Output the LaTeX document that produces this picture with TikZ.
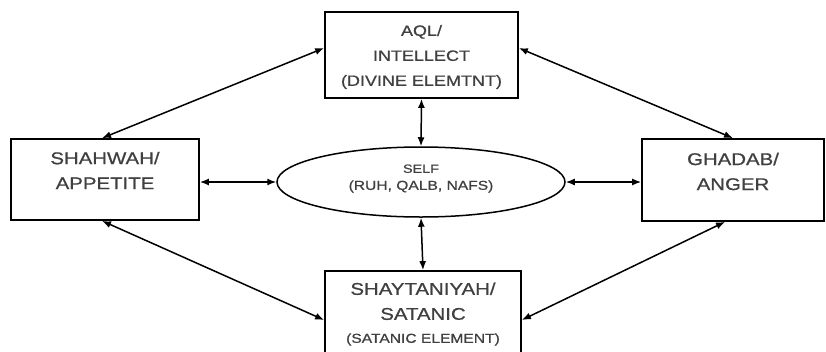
\documentclass[tikz,border=0pt]{standalone}
\usepackage{fontspec}
\setmainfont{Liberation Sans}[FakeStretch=1.2,FakeBold=0.8]
\usetikzlibrary{shapes.geometric,arrows.meta,calc}
\begin{document}
\begin{tikzpicture}[x=1pt,y=-1pt,
  box/.style={draw,line width=1.7pt,inner sep=0pt},
  lbl/.style={align=center,inner sep=0pt,text=black!75},
  link/.style={{Latex[length=9pt,width=7pt]}-{Latex[length=9pt,width=7pt]},line width=1.5pt},
]
\useasboundingbox (0,0) rectangle (826,351);
% boxes
\node[box,minimum width=193pt,minimum height=86pt] (top) at (421.5,55) {};
\node[box,minimum width=188pt,minimum height=81pt] (left) at (105,179.5) {};
\node[box,minimum width=182pt,minimum height=82pt] (right) at (733,180) {};
\node[box,minimum width=196pt,minimum height=86pt] (bottom) at (423,314) {};
\node[draw,line width=1.5pt,ellipse,inner sep=0pt,minimum width=288pt,minimum height=70pt] (self) at (421,182) {};
% texts
\node[lbl,font=\fontsize{15}{25}\selectfont] (toptext) at (421.5,57) {AQL/\\INTELLECT\\(DIVINE ELEMTNT)};
\node[lbl,font=\fontsize{17}{25}\selectfont] (lefttext) at (105,170.5) {SHAHWAH/\\APPETITE};
\node[lbl,font=\fontsize{17}{25}\selectfont] (righttext) at (733,171.5) {GHADAB/\\ANGER};
\node[lbl,font=\fontsize{17}{25}\selectfont] (bottomtext) at (423,314) {SHAYTANIYAH/\\SATANIC\\[-2pt]{\fontsize{13}{23}\selectfont (SATANIC ELEMENT)}};
\node[lbl,font=\fontsize{12}{17}\selectfont] (selftext) at (421,178.5) {SELF\\{\fontsize{13}{17}\selectfont (RUH, QALB, NAFS)}};
% connectors
\draw[link] (left.east |- self.west) -- (self.west);
\draw[link] (self.east) -- (right.west |- self.east);
\draw[link] (top.south) -- (self.north);
\draw[link] (self.south) -- (bottom.north);
\draw[link] ([yshift=7pt]top.west) -- ([xshift=-3pt]left.north);
\draw[link] ([yshift=7pt]top.east) -- (right.north);
\draw[link] ([xshift=-3pt]left.south) -- ([yshift=-6pt]bottom.west);
\draw[link] ([xshift=-8pt]right.south) -- ([yshift=-6pt]bottom.east);
\end{tikzpicture}
\end{document}
